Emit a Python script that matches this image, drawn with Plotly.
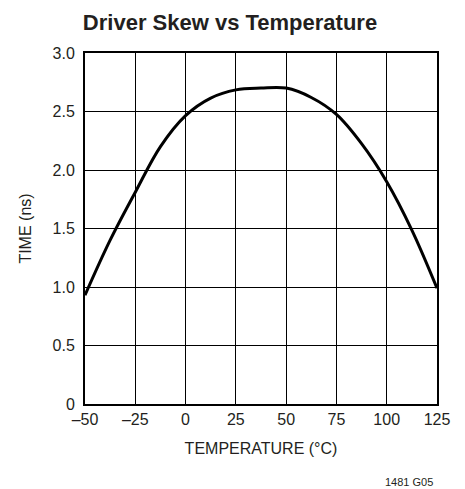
import plotly.graph_objects as go

temperature = [-50, -37.5, -25, -12.5, 0, 12.5, 25, 37.5, 50, 62.5, 75, 87.5, 100, 112.5, 125]
skew_ns = [0.93, 1.40, 1.81, 2.20, 2.465, 2.615, 2.685, 2.70, 2.70, 2.62, 2.475, 2.225, 1.90, 1.487, 0.99]

x_ticks = [-50, -25, 0, 25, 50, 75, 100, 125]
x_ticktext = ["–50", "–25", "0", "25", "50", "75", "100", "125"]
y_ticks = [0, 0.5, 1.0, 1.5, 2.0, 2.5, 3.0]
y_ticktext = ["0", "0.5", "1.0", "1.5", "2.0", "2.5", "3.0"]

FONT = "Liberation Sans Narrow, Arial Narrow, Liberation Sans, Arial, sans-serif"
INK = "#231f20"

fig = go.Figure()
fig.add_trace(go.Scatter(
    x=temperature, y=skew_ns, mode="lines",
    line=dict(color="black", width=3, shape="spline", smoothing=1.0),
    showlegend=False, hoverinfo="skip",
))

fig.update_layout(
    width=465, height=489,
    margin=dict(l=77, r=36, t=45, b=93),
    paper_bgcolor="white", plot_bgcolor="white",
    font=dict(family=FONT, color=INK, size=16),
    title=dict(text="<b>Driver Skew vs Temperature</b>", x=0.161, xanchor="left",
               y=0.971, yanchor="middle",
               font=dict(family=FONT, size=22, color=INK)),
    xaxis=dict(range=[-50, 125], tickvals=x_ticks, ticktext=x_ticktext,
               showgrid=True, gridcolor="black", gridwidth=1,
               showline=True, linecolor="black", linewidth=2, mirror=True,
               ticks="", zeroline=False, ticklabelstandoff=0,
               title=dict(text="TEMPERATURE (°C)", standoff=16,
                          font=dict(family=FONT, size=16))),
    yaxis=dict(range=[0, 3.0], tickvals=y_ticks, ticktext=y_ticktext,
               showgrid=True, gridcolor="black", gridwidth=1,
               showline=True, linecolor="black", linewidth=2, mirror=True,
               ticks="", zeroline=False, ticklabelstandoff=5,
               title=dict(text="TIME (ns)", standoff=17,
                          font=dict(family=FONT, size=16))),
)

fig.add_annotation(text="1481 G05", xref="paper", yref="paper",
                   x=0.994, y=-0.222, xanchor="right", yanchor="middle",
                   showarrow=False, font=dict(family=FONT, size=11, color=INK))

fig.write_html("out.html")
